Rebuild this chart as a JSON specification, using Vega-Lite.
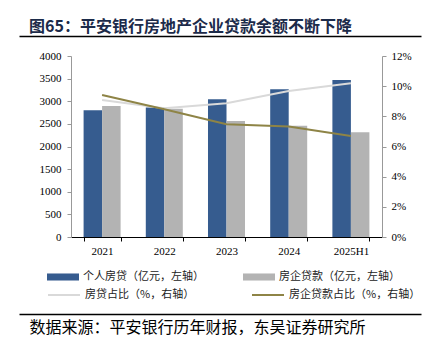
{
  "$schema": "https://vega.github.io/schema/vega-lite/v6.json",
  "width": 311,
  "height": 181,
  "autosize": {"type": "none"},
  "padding": {"left": 71, "top": 56, "right": 43, "bottom": 114},
  "background": "white",
  "config": {"view": {"stroke": null}, "font": "Liberation Serif"},
  "title": {
    "text": "图65：平安银行房地产企业贷款余额不断下降",
    "anchor": "start",
    "frame": "group",
    "dx": -42,
    "offset": 1,
    "font": "Noto Sans CJK SC",
    "fontSize": 16,
    "fontWeight": "bold",
    "color": "#1C2B4A"
  },
  "datasets": {
    "loans": [
      {"year": "2021", "series": "个人房贷（亿元，左轴）", "value": 2800},
      {"year": "2021", "series": "房企贷款（亿元，左轴）", "value": 2895},
      {"year": "2022", "series": "个人房贷（亿元，左轴）", "value": 2860},
      {"year": "2022", "series": "房企贷款（亿元，左轴）", "value": 2836},
      {"year": "2023", "series": "个人房贷（亿元，左轴）", "value": 3045},
      {"year": "2023", "series": "房企贷款（亿元，左轴）", "value": 2565},
      {"year": "2024", "series": "个人房贷（亿元，左轴）", "value": 3265},
      {"year": "2024", "series": "房企贷款（亿元，左轴）", "value": 2460},
      {"year": "2025H1", "series": "个人房贷（亿元，左轴）", "value": 3470},
      {"year": "2025H1", "series": "房企贷款（亿元，左轴）", "value": 2315}
    ],
    "pct": [
      {"year": "2021", "series": "房贷占比（%，右轴）", "value": 9.08},
      {"year": "2022", "series": "房贷占比（%，右轴）", "value": 8.53},
      {"year": "2023", "series": "房贷占比（%，右轴）", "value": 8.87},
      {"year": "2024", "series": "房贷占比（%，右轴）", "value": 9.68},
      {"year": "2025H1", "series": "房贷占比（%，右轴）", "value": 10.19},
      {"year": "2021", "series": "房企贷款占比（%，右轴）", "value": 9.42},
      {"year": "2022", "series": "房企贷款占比（%，右轴）", "value": 8.47},
      {"year": "2023", "series": "房企贷款占比（%，右轴）", "value": 7.47},
      {"year": "2024", "series": "房企贷款占比（%，右轴）", "value": 7.32},
      {"year": "2025H1", "series": "房企贷款占比（%，右轴）", "value": 6.70}
    ]
  },
  "layer": [
    {
      "data": {"name": "loans"},
      "mark": {"type": "bar"},
      "encoding": {
        "x": {
          "field": "year", "type": "nominal",
          "scale": {"domain": ["2021", "2022", "2023", "2024", "2025H1"], "paddingInner": 0.405, "paddingOuter": 0.2025},
          "axis": {"orient": "bottom", "title": null, "labelAngle": 0, "tickBand": "extent", "domainColor": "#000000", "tickColor": "#000000", "tickSize": 4, "labelPadding": 4, "labelFont": "Liberation Serif", "labelFontSize": 11, "labelFontWeight": "normal", "labelColor": "#000000"}
        },
        "xOffset": {
          "field": "series", "type": "nominal",
          "scale": {"domain": ["个人房贷（亿元，左轴）", "房企贷款（亿元，左轴）"], "paddingInner": 0, "paddingOuter": 0}
        },
        "y": {
          "field": "value", "type": "quantitative",
          "scale": {"domain": [0, 4000]},
          "axis": {"orient": "left", "title": null, "grid": false, "format": "d", "values": [0, 500, 1000, 1500, 2000, 2500, 3000, 3500, 4000], "domainColor": "#999999", "tickColor": "#999999", "tickSize": 4, "labelPadding": 6, "labelFont": "Liberation Serif", "labelFontSize": 11, "labelColor": "#000000"}
        },
        "color": {
          "field": "series", "type": "nominal",
          "scale": {"domain": ["个人房贷（亿元，左轴）", "房企贷款（亿元，左轴）"], "range": ["#365C8F", "#B3B3B3"]},
          "legend": {"title": null, "orient": "none", "legendX": -24, "legendY": 205, "direction": "horizontal", "columns": 2, "columnPadding": 39, "padding": 0, "symbolType": "M-1,-0.22H1V0.22H-1Z", "symbolSize": 1024, "symbolStrokeWidth": 0, "symbolOpacity": 1, "labelFont": "Noto Sans CJK SC", "labelFontSize": 11, "labelOffset": 4, "labelColor": "#222222", "labelLimit": 300}
        }
      }
    },
    {
      "data": {"name": "pct"},
      "mark": {"type": "line", "strokeWidth": 2},
      "encoding": {
        "x": {
          "field": "year", "type": "nominal",
          "scale": {"domain": ["2021", "2022", "2023", "2024", "2025H1"], "paddingInner": 0.405, "paddingOuter": 0.2025},
          "axis": null
        },
        "y": {
          "field": "value", "type": "quantitative",
          "scale": {"domain": [0, 12]},
          "axis": {"orient": "right", "title": null, "grid": false, "values": [0, 2, 4, 6, 8, 10, 12], "labelExpr": "datum.value + '%'", "domainColor": "#999999", "tickColor": "#999999", "tickSize": 4, "labelPadding": 5, "labelFont": "Liberation Serif", "labelFontSize": 11, "labelColor": "#000000"}
        },
        "color": {
          "field": "series", "type": "nominal",
          "scale": {"domain": ["房贷占比（%，右轴）", "房企贷款占比（%，右轴）"], "range": ["#D9D9D9", "#8E8446"]},
          "legend": {"title": null, "orient": "none", "legendX": -24, "legendY": 222, "direction": "horizontal", "columns": 2, "columnPadding": 53, "padding": 0, "symbolType": "stroke", "symbolSize": 1024, "symbolStrokeWidth": 2, "labelFont": "Noto Sans CJK SC", "labelFontSize": 11, "labelOffset": 4, "labelColor": "#222222", "labelLimit": 300}
        }
      }
    },
    {
      "data": {"values": [{}]},
      "mark": {"type": "rule", "opacity": 0},
      "encoding": {
        "x": {
          "datum": 0, "type": "quantitative",
          "scale": {"domain": [0, 1], "range": [-52, 350]},
          "axis": {"orient": "top", "offset": 20, "labels": false, "ticks": false, "grid": false, "domain": true, "domainColor": "#000000", "domainWidth": 1.5, "title": null}
        }
      }
    },
    {
      "data": {"values": [{}]},
      "mark": {"type": "rule", "opacity": 0},
      "encoding": {
        "x": {
          "datum": 0, "type": "quantitative",
          "scale": {"domain": [0, 1], "range": [-52, 350]},
          "axis": {"orient": "bottom", "offset": 77, "labels": false, "ticks": false, "grid": false, "domain": true, "domainColor": "#000000", "domainWidth": 1.5, "title": "数据来源：平安银行历年财报，东吴证券研究所", "titleFont": "Noto Sans CJK SC", "titleFontSize": 16, "titleFontWeight": "normal", "titleColor": "#000000", "titleX": -42, "titleY": 13, "titleAlign": "left", "titleBaseline": "middle", "titleAnchor": null}
        }
      }
    }
  ],
  "resolve": {
    "scale": {"x": "independent", "y": "independent", "color": "independent"},
    "axis": {"x": "independent", "y": "independent"},
    "legend": {"color": "independent"}
  }
}
